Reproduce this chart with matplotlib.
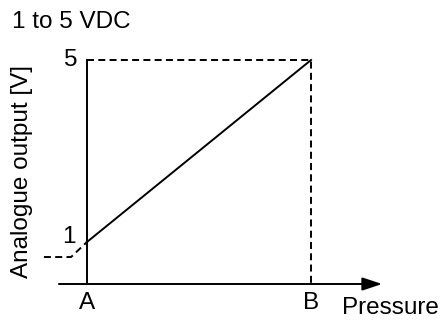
import matplotlib
matplotlib.use('Agg')
import matplotlib.pyplot as plt

# data: pressure range ends and analogue output (V)
pressure_labels = ['A', 'B']
pressure_pos = [0.0, 1.0]
output_volts = [1.0, 5.0]
title_text = '1 to 5 VDC'
ylabel_text = 'Analogue output [V]'
xlabel_text = 'Pressure'

plt.rcParams['font.family'] = ['Liberation Sans', 'DejaVu Sans']
FS = 17.5
LW = 1.4
DASH = (0, (3.6, 2.2))

fig = plt.figure(figsize=(4.43, 3.22), dpi=100)
fig.patch.set_facecolor('white')
ax = fig.add_axes([0, 0, 1, 1])
ax.set_xlim(-0.388, 1.589)
ax.set_ylim(-0.758, 6.319)
ax.axis('off')

x0 = 0.077   # level of the pressure axis
# axes
ax.plot([0, 0], [x0, output_volts[1]], color='black', lw=LW)
ax.annotate('', xy=(1.317, x0), xytext=(-0.125, x0),
            arrowprops=dict(arrowstyle='-|>,head_length=0.6,head_width=0.2',
                            mutation_scale=20, lw=LW, color='black',
                            shrinkA=0, shrinkB=0))

# output line
ax.plot(pressure_pos, output_volts, color='black', lw=LW)

# dashed guides
ax.plot([pressure_pos[0], pressure_pos[1], pressure_pos[1]],
        [output_volts[1], output_volts[1], x0],
        color='black', lw=LW, linestyle=DASH)
ax.plot([-0.192, -0.071, pressure_pos[0]], [0.67, 0.67, output_volts[0]],
        color='black', lw=LW, linestyle=DASH)

# tick labels
ax.text(-0.04, output_volts[1], '5', ha='right', va='center', fontsize=FS)
ax.text(-0.05, output_volts[0] + 0.11, '1', ha='right', va='center', fontsize=FS)
for p, lab in zip(pressure_pos, pressure_labels):
    ax.text(p, -0.34, lab, ha='center', va='center', fontsize=FS)
ax.text(1.138, -0.45, xlabel_text, ha='left', va='center', fontsize=FS)

fig.text(12 / 443, 1 - 22 / 322, title_text, ha='left', va='center', fontsize=FS)
fig.text(22 / 443, 1 - 172 / 322, ylabel_text, ha='center', va='center',
         rotation=90, fontsize=FS)

fig.savefig('out.png', dpi=100, facecolor='white')
